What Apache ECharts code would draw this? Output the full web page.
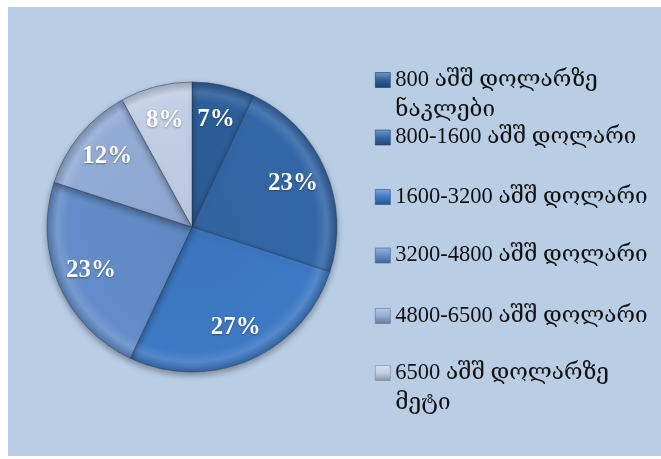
<!DOCTYPE html>
<html>
<head>
<meta charset="utf-8">
<script src="https://cdn.jsdelivr.net/npm/echarts@6/dist/echarts.min.js"></script>
<style>
  html, body { margin: 0; padding: 0; background: #ffffff; }
  #chart { width: 661px; height: 459px; }
</style>
</head>
<body>
<div id="chart"></div>
<script>
// Income brackets (USD) and their share of households, in percent
const categories = [
  '800 აშშ დოლარზე ნაკლები',
  '800-1600 აშშ დოლარი',
  '1600-3200 აშშ დოლარი',
  '3200-4800 აშშ დოლარი',
  '4800-6500 აშშ დოლარი',
  '6500 აშშ დოლარზე მეტი'
];
const shares = [7, 23, 27, 23, 12, 8];

// Slice colours, darkest to lightest
const sliceColors = ['#2c5e99', '#3467a7', '#3d79c4', '#638dca', '#93acd6', '#c3cfe6'];

// Legend row centres (px) — long names wrap onto a second line
const legendRows = [80, 137.5, 197, 255.5, 316, 373];
const lineH = 30;

const CX = 192, CY = 227, R = 145;

function shade(hex, amt) {
  const n = parseInt(hex.slice(1), 16);
  let r = (n >> 16) & 255, g = (n >> 8) & 255, b = n & 255;
  const f = v => Math.max(0, Math.min(255, Math.round(amt >= 0 ? v + (255 - v) * amt : v * (1 + amt))));
  return 'rgb(' + f(r) + ',' + f(g) + ',' + f(b) + ')';
}

function rimGradient(c) {
  return {
    type: 'radial', x: CX, y: CY, r: R, global: true,
    colorStops: [
      { offset: 0, color: shade(c, -0.04) },
      { offset: 0.86, color: c },
      { offset: 0.93, color: shade(c, 0.12) },
      { offset: 1, color: shade(c, -0.18) }
    ]
  };
}

function iconGradient(c) {
  return {
    type: 'linear', x: 0, y: 0, x2: 0, y2: 1,
    colorStops: [
      { offset: 0, color: shade(c, 0.35) },
      { offset: 0.5, color: c },
      { offset: 1, color: shade(c, -0.3) }
    ]
  };
}

// Wrap long names; a leading blank line keeps the marker beside the first line
const isLong = name => name.indexOf('დოლარზე ') >= 0;
const wrapName = name => isLong(name) ? '\n' + name.replace('დოლარზე ', 'დოლარზე\n') : name;

const pieData = categories.map((name, i) => ({
  name: name,
  value: shares[i],
  itemStyle: { color: rimGradient(sliceColors[i]) }
}));

const labelData = categories.map((name, i) => ({ name: name, value: shares[i] }));

const legends = categories.map((name, i) => {
  const boxH = isLong(name) ? lineH * 3 : lineH;
  return {
    orient: 'vertical',
    left: 375,
    top: legendRows[i] - boxH / 2,
    padding: 0,
    itemWidth: 15,
    itemHeight: 15,
    icon: 'rect',
    selectedMode: false,
    formatter: wrapName,
    textStyle: {
      fontFamily: 'Liberation Serif, DejaVu Serif, serif',
      fontSize: 22.5,
      lineHeight: lineH,
      color: '#111111'
    },
    data: [{
      name: name,
      itemStyle: { color: iconGradient(sliceColors[i]), borderColor: shade(sliceColors[i], -0.35), borderWidth: 0.6 }
    }]
  };
});

const chart = echarts.init(document.getElementById('chart'), null, { renderer: 'canvas' });
chart.setOption({
  backgroundColor: 'transparent',
  animation: false,
  graphic: [{
    type: 'rect',
    z: -10,
    silent: true,
    shape: { x: 8, y: 7, width: 653, height: 449 },
    style: { fill: '#b9cde5' }
  }],
  legend: legends,
  series: [
    {
      type: 'pie',
      center: [CX, CY],
      radius: R,
      startAngle: 90,
      clockwise: true,
      silent: true,
      label: { show: false },
      labelLine: { show: false },
      itemStyle: {
        borderColor: 'rgba(40,55,80,0.45)',
        borderWidth: 1,
        shadowBlur: 6,
        shadowOffsetY: 3,
        shadowColor: 'rgba(0,0,0,0.35)'
      },
      data: pieData
    },
    {
      type: 'pie',
      center: [CX, CY],
      radius: [69, R],
      startAngle: 90,
      clockwise: true,
      silent: true,
      itemStyle: { color: 'rgba(0,0,0,0)' },
      label: {
        show: true,
        position: 'inside',
        formatter: '{c}%',
        color: '#ffffff',
        fontFamily: 'Liberation Serif, DejaVu Serif, serif',
        fontWeight: 'bold',
        fontSize: 25,
        textShadowColor: 'rgba(0,0,0,0.35)',
        textShadowBlur: 2,
        textShadowOffsetY: 1
      },
      labelLine: { show: false },
      data: labelData
    }
  ]
});
</script>
</body>
</html>
